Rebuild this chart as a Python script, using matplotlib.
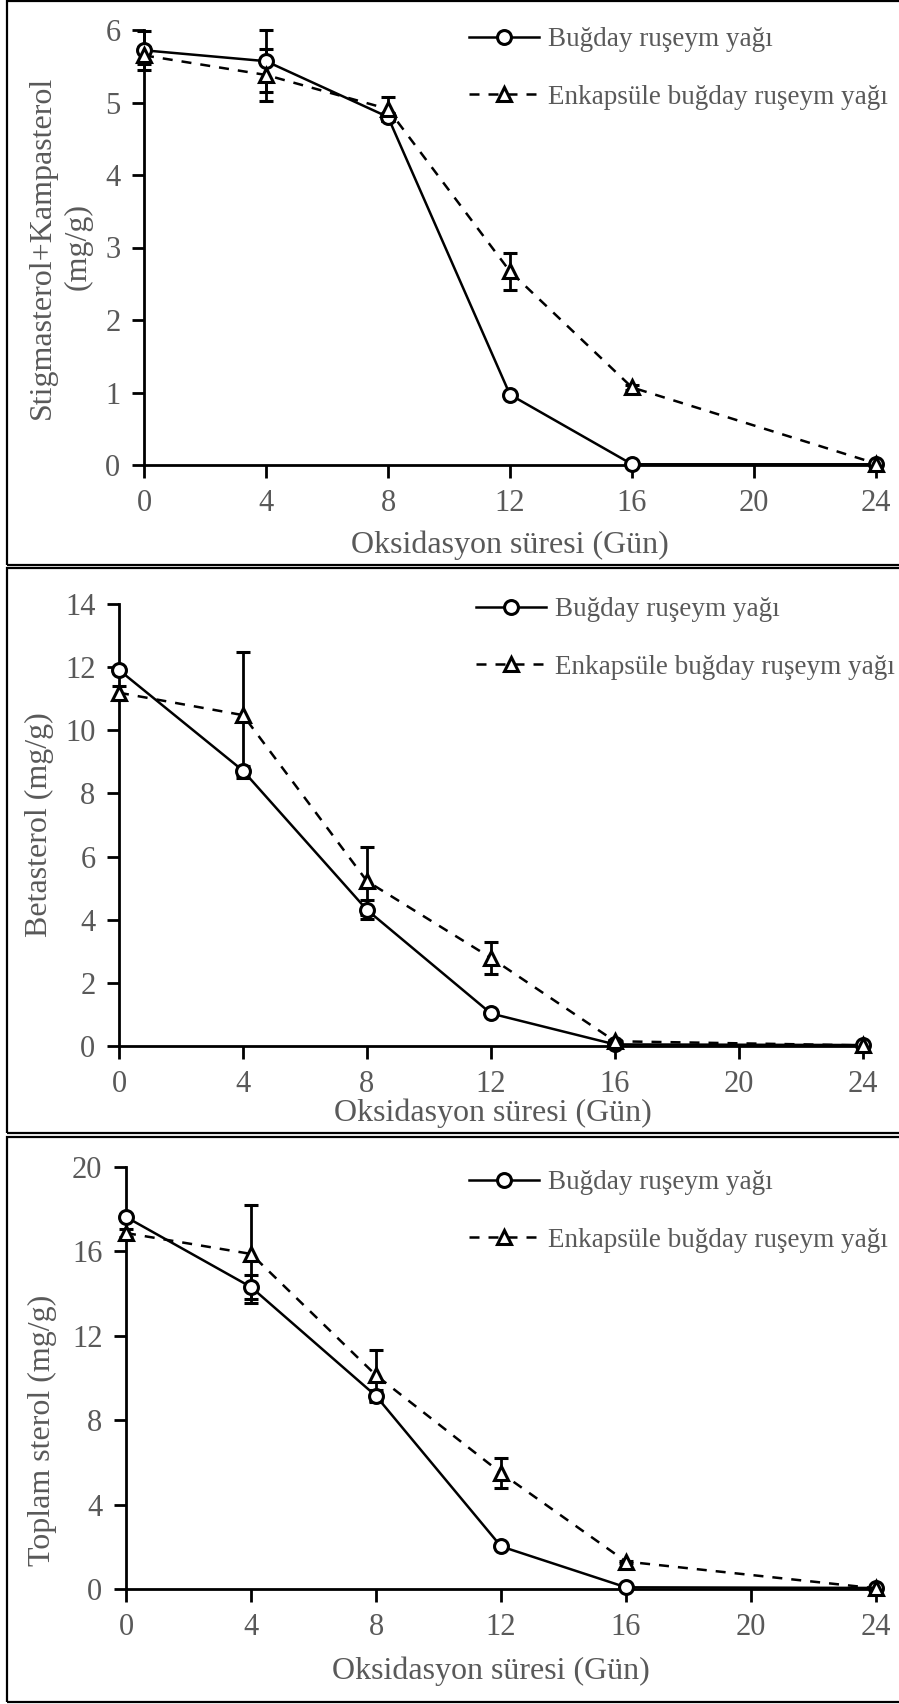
import matplotlib
matplotlib.use("Agg")
import matplotlib.pyplot as plt
from matplotlib.patches import Rectangle

# ---------------- data ----------------
days = [0, 4, 8, 12, 16, 24]
x_ticks = [0, 4, 8, 12, 16, 20, 24]

label_oil = "Buğday ruşeym yağı"
label_enc = "Enkapsüle buğday ruşeym yağı"
x_label = "Oksidasyon süresi (Gün)"

# Panel 1: Stigmasterol + Kampasterol
stig_oil = [5.72, 5.57, 4.80, 0.97, 0.01, 0.01]
stig_oil_err = [0.27, 0.43, 0.05, 0.03, 0.0, 0.0]
stig_enc = [5.65, 5.38, 4.91, 2.67, 1.07, 0.02]
stig_enc_err = [0.12, 0.36, 0.16, 0.25, 0.04, 0.0]

# Panel 2: Betasterol
beta_oil = [11.91, 8.72, 4.31, 1.03, 0.05, 0.03]
beta_oil_err = [0.10, 0.15, 0.30, 0.05, 0.0, 0.0]
beta_enc = [11.19, 10.48, 5.22, 2.79, 0.15, 0.02]
beta_enc_err = [0.22, 2.00, 1.08, 0.50, 0.05, 0.0]

# Panel 3: Toplam sterol
top_oil = [17.63, 14.31, 9.15, 2.02, 0.08, 0.05]
top_oil_err = [0.15, 0.55, 0.30, 0.10, 0.0, 0.0]
top_enc = [16.87, 15.88, 10.13, 5.50, 1.30, 0.03]
top_enc_err = [0.20, 2.33, 1.20, 0.70, 0.05, 0.0]

panels = [
    dict(y1=stig_oil, e1=stig_oil_err, y2=stig_enc, e2=stig_enc_err,
         ylabel="Stigmasterol+Kampasterol\n(mg/g)", ymax=6, ystep=1),
    dict(y1=beta_oil, e1=beta_oil_err, y2=beta_enc, e2=beta_enc_err,
         ylabel="Betasterol (mg/g)", ymax=14, ystep=2),
    dict(y1=top_oil, e1=top_oil_err, y2=top_enc, e2=top_enc_err,
         ylabel="Toplam sterol (mg/g)", ymax=20, ystep=4),
]

# ---------------- layout (pixels) ----------------
W, H = 899, 1704
axes_px = [(144, 876, 30, 465), (119, 863, 604, 1046), (126, 876, 1167, 1589)]
boxes_px = [(1, 565), (568, 1133), (1137, 1702)]
xlabel_px = [(510, 545), (493, 1113), (491, 1671)]
ylabel_px = [(60, 247), (39, 825), (42, 1430)]
legend_px = [(469, 40), (476, 610), (469, 1183)]
row_gap = 57

GRAY = "#595959"
plt.rcParams['font.family'] = ['Liberation Serif', 'DejaVu Serif']

fig = plt.figure(figsize=(W / 100, H / 100), dpi=100)

def fx(x):
    return x / W

def fy(y):
    return 1 - y / H

for i, p in enumerate(panels):
    l, r, t, b = axes_px[i]
    ax = fig.add_axes([fx(l), fy(b), fx(r) - fx(l), fy(t) - fy(b)])
    c1 = ax.errorbar(days, p["y1"], yerr=p["e1"], color="black", lw=1.8,
                     ls="-", marker="o", ms=10, mfc="white", mec="black", mew=2.2,
                     elinewidth=2, capsize=5, capthick=2, label=label_oil,
                     clip_on=False, zorder=3)
    c2 = ax.errorbar(days, p["y2"], yerr=p["e2"], color="black", lw=1.8,
                     ls=(0, (4.0, 3.6)), marker="^", ms=10, mfc="white",
                     mec="black", mew=2.2, elinewidth=2, capsize=5, capthick=2,
                     label=label_enc, clip_on=False, zorder=3)
    ax.set_xlim(0, 24)
    ax.set_ylim(0, p["ymax"])
    ax.set_xticks(x_ticks)
    ax.set_yticks(list(range(0, p["ymax"] + 1, p["ystep"])))
    for s in ["top", "right"]:
        ax.spines[s].set_visible(False)
    for s in ["left", "bottom"]:
        ax.spines[s].set_linewidth(2)
    ax.tick_params(direction="out", length=9, width=2, labelsize=22,
                   labelcolor=GRAY, pad=8)
    ax.set_xlabel(x_label, fontsize=23, color=GRAY)
    ax.xaxis.label.set_va("center")
    xlx, xly = xlabel_px[i]
    ax.xaxis.set_label_coords(fx(xlx), fy(xly), transform=fig.transFigure)
    ax.set_ylabel(p["ylabel"], fontsize=23, color=GRAY, linespacing=1.3)
    ax.yaxis.label.set_va("center")
    ylx, yly = ylabel_px[i]
    ax.yaxis.set_label_coords(fx(ylx), fy(yly), transform=fig.transFigure)

    lx, ly = legend_px[i]
    leg = ax.legend(handles=[c1.lines[0], c2.lines[0]],
                    labels=[label_oil, label_enc],
                    loc="center left", bbox_to_anchor=(fx(lx), fy(ly + row_gap / 2)),
                    bbox_transform=fig.transFigure, frameon=False,
                    fontsize=19.5, handlelength=2.6, handletextpad=0.3,
                    borderpad=0, borderaxespad=0, labelspacing=1.2)
    for txt in leg.get_texts():
        txt.set_color(GRAY)

    bt, bb = boxes_px[i]
    fig.add_artist(Rectangle((fx(7), fy(bb)), fx(W + 5) - fx(7), fy(bt) - fy(bb),
                             transform=fig.transFigure, fill=False,
                             ec="black", lw=1.6))

fig.savefig("out.png", dpi=100)
